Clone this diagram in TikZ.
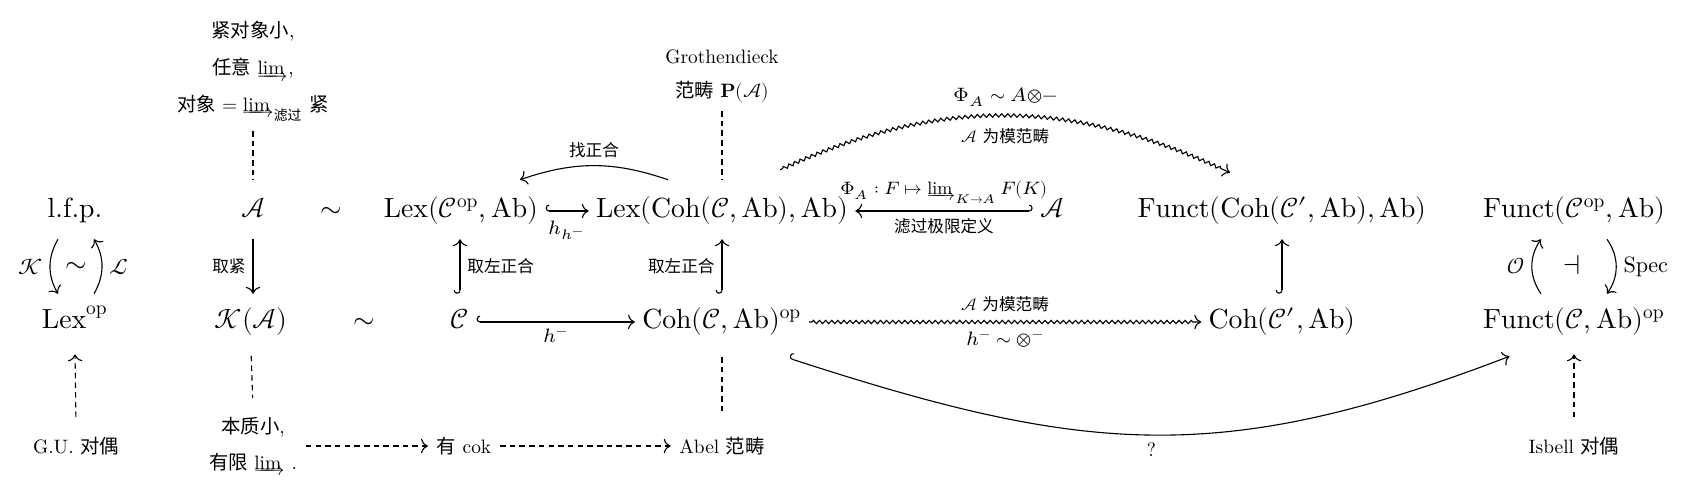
\documentclass[tikz,border=0pt]{standalone}
\usepackage{amsmath}
\usepackage{fontspec}
\usepackage{unicode-math}
\setmainfont{lmroman10-regular}[Extension=.otf, BoldFont=lmroman10-bold, ItalicFont=lmroman10-italic, BoldItalicFont=lmroman10-bolditalic]
\setmathfont{Latin Modern Math}
\newfontfamily\cjk{Noto Sans CJK SC}
\usetikzlibrary{arrows.meta,decorations.pathmorphing}
\newcommand\zh[1]{{\cjk #1}}
\newcommand\zhm[1]{\text{\cjk #1}}
\newcommand\dlim{\mathop{\vtop{\setbox0=\hbox{$\mathrm{lim}$}\setbox2=\hbox to\dimexpr\wd0+0.2em\relax{\rightarrowfill}\ht2=0pt\hbox to\dimexpr\wd0+0.2em\relax{\copy0\hss}\nointerlineskip\kern0.34em\box2}}\nolimits}
\tikzset{
  main/.style={inner xsep=2.5pt, inner ysep=5pt, text height=7.5pt, text depth=2.5pt},
  note/.style={font=\fontsize{7}{10}\selectfont, align=center, inner sep=3pt},
  clab/.style={font=\fontsize{6}{7}\selectfont, inner sep=2.5pt},
  mlab/.style={font=\fontsize{7}{8}\selectfont, inner sep=2.5pt},
  blab/.style={font=\fontsize{8}{9}\selectfont, inner sep=2.5pt},
  cdar/.style={-{Computer Modern Rightarrow}, line width=0.4pt},
  hk/.style={{Hooks[right]}-{Computer Modern Rightarrow}, line width=0.4pt},
  hkr/.style={{Hooks[left]}-{Computer Modern Rightarrow}, line width=0.4pt},
  dsh/.style={dash pattern=on 2pt off 1.5pt, line width=0.4pt},
  squig/.style={decorate, decoration={zigzag, segment length=2.2pt, amplitude=0.6pt, pre length=1pt, post length=3pt}},
}
\begin{document}
\begin{tikzpicture}[x=0.361pt, y=-0.361pt]
\fill[white] (0,0) rectangle (1685,504);
\useasboundingbox (0,0) rectangle (1685,504);
% row 1
\node[main] (lfp) at (75,211) {l.f.p.};
\node[main] (A1) at (253,211) {$\mathcal{A}$};
\node[main] (sim1) at (331,211) {$\sim$};
\node[main] (Lexop) at (461,211) {$\mathrm{Lex}(\mathcal{C}^{\mathrm{op}},\mathrm{Ab})$};
\node[main] (LexCoh) at (722,211) {$\mathrm{Lex}(\mathrm{Coh}(\mathcal{C},\mathrm{Ab}),\mathrm{Ab})$};
\node[main] (A2) at (1052,211) {$\mathcal{A}$};
\node[main] (FunctCoh) at (1282,211) {$\mathrm{Funct}(\mathrm{Coh}(\mathcal{C}',\mathrm{Ab}),\mathrm{Ab})$};
\node[main] (FunctCop) at (1574,211) {$\mathrm{Funct}(\mathcal{C}^{\mathrm{op}},\mathrm{Ab})$};
% row 2
\node[main] (Lex2) at (75,322) {$\mathrm{Lex}^{\mathrm{op}}$};
\node[main] (KA) at (251,322) {$\mathcal{K}(\mathcal{A})$};
\node[main] (sim2) at (364,322) {$\sim$};
\node[main] (C) at (460,322) {$\mathcal{C}$};
\node[main] (CohOp) at (722,322) {$\mathrm{Coh}(\mathcal{C},\mathrm{Ab})^{\mathrm{op}}$};
\node[main] (CohCp) at (1282,322) {$\mathrm{Coh}(\mathcal{C}',\mathrm{Ab})$};
\node[main] (FunctC) at (1574,322) {$\mathrm{Funct}(\mathcal{C},\mathrm{Ab})^{\mathrm{op}}$};
% notes
\node[note, font=\fontsize{7}{11.8}\selectfont, anchor=south] (topA) at (253,131)
  {\zh{紧对象小},\\[1.5pt] \zh{任意} $\dlim$,\\[1.4pt] \zh{对象} $=\dlim_{\zhm{滤过}}$ \zh{紧}};
\node[note, font=\fontsize{7}{12.3}\selectfont, anchor=south] (Groth) at (722,111)
  {Grothendieck\\ \zh{范畴} $\mathbf{P}(\mathcal{A})$};
\node[note, font=\fontsize{7}{12}\selectfont, anchor=north] (ess) at (253,408)
  {\zh{本质小},\\[1pt] \zh{有限} $\dlim$ .};
\node[note] (GU) at (76,446) {G.U. \zh{对偶}};
\node[note] (cok) at (464,446) {\zh{有} cok};
\node[note] (Abel) at (722,446) {Abel \zh{范畴}};
\node[note] (Isb) at (1574,446) {Isbell \zh{对偶}};
\node[main] (simL) at (76,266) {$\sim$};
\node[main] (adj) at (1572,268) {$\dashv$};
% left pair
\draw[cdar] ([shift={(-17,0)}]lfp.south) to[bend right=30] node[blab,left]{$\mathcal{K}$} ([shift={(-17,0)}]Lex2.north);
\draw[cdar] ([shift={(19,0)}]Lex2.north) to[bend right=30] node[blab,right]{$\mathcal{L}$} ([shift={(19,0)}]lfp.south);
% right pair
\draw[cdar] ([shift={(-33,0)}]FunctC.north) to[bend left=35] node[blab,left]{$\mathcal{O}$} ([shift={(-33,0)}]FunctCop.south);
\draw[cdar] ([shift={(33,0)}]FunctCop.south) to[bend left=35] node[blab,right]{$\mathrm{Spec}$} ([shift={(33,0)}]FunctC.north);
% verticals
\draw[cdar] (A1.south) -- node[clab,left]{\zh{取紧}} (A1.south |- KA.north);
\draw[hk] (C.north) -- node[clab,right]{\zh{取左正合}} (C.north |- Lexop.south);
\draw[hk] (CohOp.north) -- node[clab,left]{\zh{取左正合}} (CohOp.north |- LexCoh.south);
\draw[hk] (CohCp.north) -- (CohCp.north |- FunctCoh.south);
% horizontals
\draw[hk] (Lexop) -- node[mlab,below,yshift=-1pt]{$h_{h^-}$} (LexCoh);
\draw[hk] (C) -- node[mlab,below]{$h^-$} (CohOp);
\draw[hkr] (A2) -- node[font=\fontsize{6.5}{7.5}\selectfont,inner sep=2.5pt,above]{$\Phi_A:F\mapsto\dlim_{K\to A}F(K)$} node[clab,below]{\zh{滤过极限定义}} (LexCoh);
\draw[squig,cdar] (CohOp) -- node[clab,above,yshift=1pt]{$\mathcal{A}$ \zh{为模范畴}} node[mlab,below,yshift=-1pt]{$h^-\sim\otimes^-$} (CohCp);
% arcs
\draw[squig,cdar] ([shift={(58,-13)}]LexCoh.north) to[bend left=25] node[mlab,above,yshift=0.5pt]{$\Phi_A\sim A{\otimes}{-}$} node[clab,below,yshift=-2pt]{$\mathcal{A}$ \zh{为模范畴}} ([shift={(-52,-10)}]FunctCoh.north);
\draw[cdar] ([shift={(-54,-3)}]LexCoh.north) to[bend right=19] node[clab,above]{\zh{找正合}} ([shift={(59,-3)}]Lexop.north);
\draw[hk] ([shift={(-20,8)}]CohOp.south east) to[out=-18,in=201,looseness=1.1] node[mlab,below]{?} ([shift={(34,6)}]FunctC.south west);
% dashed
\draw[dsh, shorten >=1pt] (topA.south) -- (A1.north);
\draw[dsh, shorten >=1.2pt] (Groth.south) -- (LexCoh.north);
\draw[dsh, shorten <=2pt, shorten >=3.6pt] (KA.south) -- (ess.north);
\draw[dsh, shorten <=2.5pt, shorten >=5.8pt] (CohOp.south) -- (Abel.north);
\draw[dsh, cdar, shorten <=4pt, shorten >=1.5pt] (GU.north) -- (Lex2.south);
\draw[dsh, cdar, shorten <=4pt, shorten >=1.5pt] (Isb.north) -- (FunctC.south);
\draw[dsh, cdar] (ess.east |- cok.west) -- (cok.west);
\draw[dsh, cdar] (cok) -- (Abel);
\end{tikzpicture}
\end{document}
